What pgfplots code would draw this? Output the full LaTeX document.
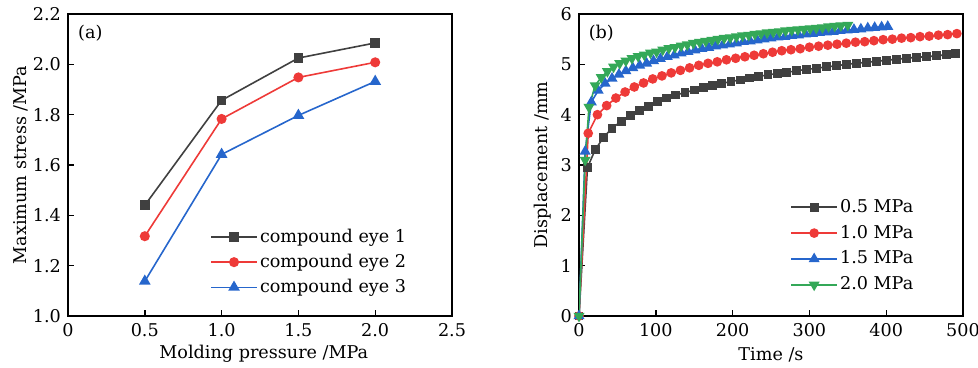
\documentclass[border=0pt]{standalone}
\usepackage{fontspec}
\setmainfont{DejaVu Serif}
\usepackage{pgfplots}
\pgfplotsset{compat=1.18}
\definecolor{cblk}{RGB}{64,64,64}
\definecolor{cred}{RGB}{238,58,56}
\definecolor{cblu}{RGB}{38,102,204}
\definecolor{cgrn}{RGB}{52,168,88}
\newcommand{\ff}{\fontsize{8.8}{11}\selectfont}
\pgfplotsset{
  every axis/.append style={
    scale only axis, width=192pt, height=151pt,
    /pgf/number format/assume math mode=true,
    axis line style={line width=0.8pt},
    tick align=inside, xtick pos=bottom, ytick pos=left,
    major tick length=3pt, tick style={line width=0.7pt, black},
    tick label style={font=\ff},
    label style={font=\ff},
    legend style={draw=none, fill=none, font=\ff, inner sep=0pt,
      nodes={inner sep=1.2pt}},
    legend cell align=left,
    legend image code/.code={\draw[mark repeat=2,mark phase=2, line width=0.8pt] plot coordinates {(0cm,0cm) (0.4cm,0cm) (0.8cm,0cm)};},
  },
}
\begin{document}
\begin{tikzpicture}
\begin{axis}[at={(0pt,0pt)}, anchor=south west,
  xmin=0, xmax=2.5, ymin=1.0, ymax=2.2,
  xtick={0,0.5,1.0,1.5,2.0,2.5}, xticklabels={0,0.5,1.0,1.5,2.0,2.5},
  ytick={1.0,1.2,1.4,1.6,1.8,2.0,2.2}, yticklabels={1.0,1.2,1.4,1.6,1.8,2.0,2.2},
  xlabel={Molding pressure /MPa}, ylabel={Maximum stress /MPa},
  xlabel style={at={(axis description cs:0.51,-0.125)}, anchor=center},
  ylabel style={at={(axis description cs:-0.122,0.5)}, anchor=center},
  legend style={at={(rel axis cs:0.37,0.298)}, anchor=north west, row sep=2pt},
]
\addplot[cblk, line width=0.8pt, mark=square*, mark size=2pt] coordinates {(0.5,1.440) (1.0,1.857) (1.5,2.025) (2.0,2.085)};
\addlegendentry{compound eye 1}
\addplot[cred, line width=0.8pt, mark=*, mark size=2.1pt] coordinates {(0.5,1.317) (1.0,1.783) (1.5,1.948) (2.0,2.008)};
\addlegendentry{compound eye 2}
\addplot[cblu, line width=0.8pt, mark=triangle*, mark size=2.6pt] coordinates {(0.5,1.138) (1.0,1.642) (1.5,1.797) (2.0,1.932)};
\addlegendentry{compound eye 3}
\node[font=\ff] at (rel axis cs:0.058,0.935) {(a)};
\end{axis}
\begin{axis}[at={(255.5pt,0pt)}, anchor=south west,
  xmin=0, xmax=500, ymin=0, ymax=6,
  xtick={0,100,200,300,400,500}, ytick={0,1,2,3,4,5,6},
  xlabel={Time /s}, ylabel={Displacement /mm},
  xlabel style={at={(axis description cs:0.5,-0.13)}, anchor=center},
  ylabel style={at={(axis description cs:-0.094,0.5)}, anchor=center},
  legend style={at={(rel axis cs:0.55,0.396)}, anchor=north west, row sep=2.5pt},
]
\addplot[cblk, line width=0.8pt, mark=square*, mark size=1.8pt] coordinates {
(0,0) (11,2.95) (21,3.30) (32,3.55) (43,3.73) (55,3.87) (67,3.99) (79,4.09) (90,4.17) (102,4.26)
(114,4.33) (126,4.39) (138,4.44) (150,4.49) (162,4.54) (174,4.58) (186,4.62) (198,4.66) (210,4.69)
(222,4.73) (234,4.76) (246,4.79) (258,4.82) (270,4.84) (283,4.87) (296,4.90) (309,4.92) (322,4.95)
(335,4.97) (348,5.00) (361,5.02) (374,5.04) (387,5.06) (400,5.08) (413,5.10) (426,5.12) (439,5.14)
(452,5.15) (465,5.17) (478,5.19) (490,5.22)};
\addlegendentry{0.5 MPa}
\addplot[cred, line width=0.8pt, mark=*, mark size=2pt] coordinates {
(0,0) (12,3.63) (24,4.00) (36,4.18) (48,4.33) (60,4.45) (72,4.55) (84,4.63) (96,4.71) (108,4.77)
(120,4.83) (132,4.88) (144,4.93) (156,4.98) (168,5.02) (180,5.05) (192,5.09) (204,5.12) (216,5.15)
(228,5.18) (240,5.21) (252,5.24) (264,5.27) (276,5.29) (288,5.31) (300,5.34) (312,5.36) (324,5.38)
(336,5.40) (348,5.42) (360,5.44) (372,5.45) (384,5.47) (396,5.49) (408,5.50) (420,5.52) (432,5.53)
(444,5.55) (456,5.56) (468,5.58) (480,5.59) (492,5.61)};
\addlegendentry{1.0 MPa}
\addplot[cblu, line width=0.8pt, mark=triangle*, mark size=2.4pt] coordinates {
(0,0) (8,3.27) (16,4.25) (25,4.48) (34,4.62) (43,4.72) (52,4.80) (61,4.87) (70,4.93) (79,4.98)
(88,5.02) (97,5.07) (106,5.11) (115,5.15) (124,5.18) (133,5.22) (142,5.25) (151,5.28) (160,5.31)
(169,5.33) (178,5.36) (187,5.38) (196,5.40) (205,5.42) (214,5.45) (223,5.46) (232,5.48) (241,5.50)
(250,5.52) (259,5.54) (268,5.55) (277,5.57) (286,5.58) (295,5.60) (304,5.61) (313,5.63) (322,5.64)
(331,5.65) (340,5.67) (349,5.68) (358,5.69) (367,5.70) (376,5.72) (385,5.73) (394,5.74) (402,5.75)};
\addlegendentry{1.5 MPa}
\addplot[cgrn, line width=0.8pt, mark=triangle*, mark options={rotate=180}, mark size=2.4pt] coordinates {
(0,0) (8,3.10) (13,4.15) (21,4.58) (29,4.74) (37,4.86) (45,4.95) (53,5.02) (61,5.07) (69,5.12)
(77,5.16) (85,5.19) (93,5.23) (101,5.25) (109,5.29) (117,5.32) (125,5.34) (133,5.37) (141,5.39)
(149,5.42) (157,5.44) (165,5.46) (173,5.48) (181,5.50) (189,5.52) (197,5.53) (205,5.55) (213,5.57)
(221,5.58) (229,5.60) (237,5.61) (245,5.63) (253,5.64) (261,5.65) (269,5.67) (277,5.68) (285,5.69)
(293,5.70) (301,5.71) (309,5.72) (317,5.73) (325,5.75) (333,5.76) (341,5.77) (350,5.78)};
\addlegendentry{2.0 MPa}
\node[font=\ff] at (rel axis cs:0.058,0.935) {(b)};
\end{axis}
\pgfresetboundingbox
\path (-34pt,-26pt) rectangle (455pt,158pt);
\end{tikzpicture}
\end{document}
